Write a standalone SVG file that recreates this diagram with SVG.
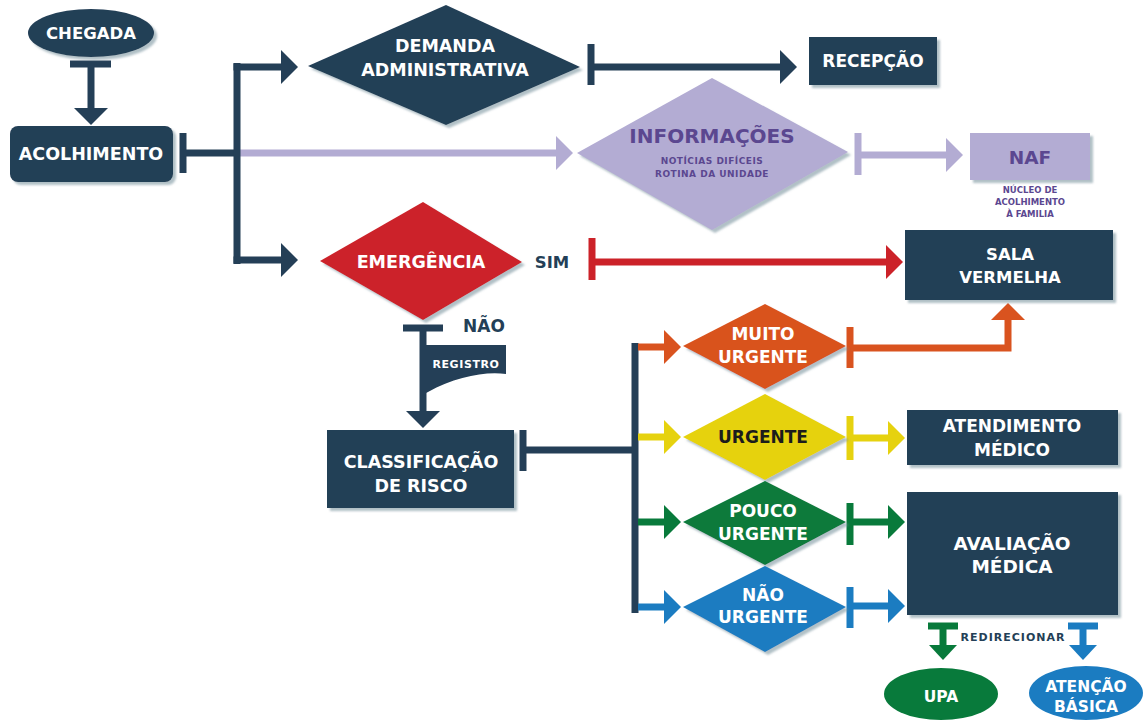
<svg xmlns="http://www.w3.org/2000/svg" width="1143" height="720" viewBox="0 0 1143 720">
<defs>
<style>
text{font-family:"DejaVu Sans","Liberation Sans",sans-serif;font-weight:bold;text-anchor:middle;dominant-baseline:central}
.w{fill:#ffffff}
.nv{fill:#243f57}
.ln{fill:none;stroke-width:7}
.sh{filter:url(#sh)}
</style>
<filter id="sh" x="-10%" y="-10%" width="125%" height="130%">
<feDropShadow dx="3" dy="3" stdDeviation="1.2" flood-color="#6f8d98" flood-opacity="0.55"/>
</filter>
<marker id="aN" markerUnits="userSpaceOnUse" viewBox="0 0 17 34" markerWidth="17" markerHeight="34" refX="0" refY="17" orient="auto"><path d="M0,0L17,17L0,34Z" fill="#243f57"/></marker>
<marker id="aP" markerUnits="userSpaceOnUse" viewBox="0 0 17 34" markerWidth="17" markerHeight="34" refX="0" refY="17" orient="auto"><path d="M0,0L17,17L0,34Z" fill="#b3acd3"/></marker>
<marker id="aR" markerUnits="userSpaceOnUse" viewBox="0 0 17 34" markerWidth="17" markerHeight="34" refX="0" refY="17" orient="auto"><path d="M0,0L17,17L0,34Z" fill="#cc2229"/></marker>
<marker id="aO" markerUnits="userSpaceOnUse" viewBox="0 0 17 34" markerWidth="17" markerHeight="34" refX="0" refY="17" orient="auto"><path d="M0,0L17,17L0,34Z" fill="#d9531f"/></marker>
<marker id="aY" markerUnits="userSpaceOnUse" viewBox="0 0 17 34" markerWidth="17" markerHeight="34" refX="0" refY="17" orient="auto"><path d="M0,0L17,17L0,34Z" fill="#e6d20f"/></marker>
<marker id="aG" markerUnits="userSpaceOnUse" viewBox="0 0 17 34" markerWidth="17" markerHeight="34" refX="0" refY="17" orient="auto"><path d="M0,0L17,17L0,34Z" fill="#087a3b"/></marker>
<marker id="aB" markerUnits="userSpaceOnUse" viewBox="0 0 17 34" markerWidth="17" markerHeight="34" refX="0" refY="17" orient="auto"><path d="M0,0L17,17L0,34Z" fill="#1b7cc1"/></marker>
<marker id="sG" markerUnits="userSpaceOnUse" viewBox="0 0 15 28" markerWidth="15" markerHeight="28" refX="0" refY="14" orient="auto"><path d="M0,0L15,14L0,28Z" fill="#087a3b"/></marker>
<marker id="sB" markerUnits="userSpaceOnUse" viewBox="0 0 15 28" markerWidth="15" markerHeight="28" refX="0" refY="14" orient="auto"><path d="M0,0L15,14L0,28Z" fill="#1b7cc1"/></marker>
</defs>
<rect width="1143" height="720" fill="#ffffff"/>

<g id="connectors">
  <path class="ln" stroke="#243f57" d="M70,64H111"/>
  <path class="ln" stroke="#243f57" d="M91,64V108" marker-end="url(#aN)"/>
  <path class="ln" stroke="#243f57" d="M183,133V173"/>
  <path class="ln" stroke="#b3acd3" d="M237,153H556" marker-end="url(#aP)"/>
  <path class="ln" stroke="#243f57" d="M183,153H237"/>
  <path class="ln" stroke="#243f57" d="M237,63V264"/>
  <path class="ln" stroke="#243f57" d="M233.5,67H281" marker-end="url(#aN)"/>
  <path class="ln" stroke="#243f57" d="M233.5,260H281" marker-end="url(#aN)"/>
  <path class="ln" stroke="#243f57" d="M591,44V85"/>
  <path class="ln" stroke="#243f57" d="M591,67H780" marker-end="url(#aN)"/>
  <path class="ln" stroke="#b3acd3" d="M858,133V175"/>
  <path class="ln" stroke="#b3acd3" d="M858,155H946" marker-end="url(#aP)"/>
  <path class="ln" stroke="#cc2229" d="M592,238V280"/>
  <path class="ln" stroke="#cc2229" d="M592,262H886" marker-end="url(#aR)"/>
  <path class="ln" stroke="#243f57" d="M403,328H443"/>
  <path class="ln" stroke="#243f57" d="M423,328V411" marker-end="url(#aN)"/>
  <path fill="#243f57" d="M420,345H506V374C485,371 455,377 428,392L420,396Z"/>
  <text class="w" x="466" y="364" font-size="11" letter-spacing="0.6">REGISTRO</text>
  <path class="ln" stroke="#243f57" d="M523,430V471"/>
  <path class="ln" stroke="#243f57" d="M523,450H635"/>
  <path class="ln" stroke="#243f57" d="M635,343V613"/>
  <path class="ln" stroke="#d9531f" d="M638,347H664" marker-end="url(#aO)"/>
  <path class="ln" stroke="#e6d20f" d="M638,437H664" marker-end="url(#aY)"/>
  <path class="ln" stroke="#087a3b" d="M638,522H664" marker-end="url(#aG)"/>
  <path class="ln" stroke="#1b7cc1" d="M638,607H664" marker-end="url(#aB)"/>
  <path class="ln" stroke="#d9531f" d="M850,327V368"/>
  <path class="ln" stroke="#d9531f" d="M850,348H1008V320" marker-end="url(#aO)"/>
  <path class="ln" stroke="#e6d20f" d="M850,416V460"/>
  <path class="ln" stroke="#e6d20f" d="M850,438H888" marker-end="url(#aY)"/>
  <path class="ln" stroke="#087a3b" d="M850,503V545"/>
  <path class="ln" stroke="#087a3b" d="M850,522H888" marker-end="url(#aG)"/>
  <path class="ln" stroke="#1b7cc1" d="M850,587V628"/>
  <path class="ln" stroke="#1b7cc1" d="M850,606H888" marker-end="url(#aB)"/>
  <path class="ln" stroke="#087a3b" d="M928,626H958"/>
  <path class="ln" stroke="#087a3b" d="M943,626V645" marker-end="url(#sG)"/>
  <path class="ln" stroke="#1b7cc1" d="M1068,626H1098"/>
  <path class="ln" stroke="#1b7cc1" d="M1083,626V645" marker-end="url(#sB)"/>
  <text class="nv" x="1013" y="637" font-size="11" letter-spacing="1">REDIRECIONAR</text>
  <text class="nv" x="552" y="262" font-size="16.5">SIM</text>
  <text class="nv" x="484" y="326" font-size="17">NÃO</text>
</g>

<g id="chegada">
  <ellipse class="sh" cx="91" cy="33" rx="63" ry="24" fill="#243f57"/>
  <text class="w" x="91" y="33" font-size="16.5">CHEGADA</text>
</g>
<g id="acolhimento">
  <rect class="sh" x="10" y="126" width="163" height="56" rx="8" fill="#243f57"/>
  <text class="w" x="91" y="154" font-size="17.5">ACOLHIMENTO</text>
</g>
<g id="demanda">
  <polygon class="sh" points="308,66 446,5 580,67 446,125" fill="#243f57"/>
  <text class="w" x="445" y="46" font-size="17.5">DEMANDA</text>
  <text class="w" x="445" y="70" font-size="17.5">ADMINISTRATIVA</text>
</g>
<g id="recepcao">
  <rect class="sh" x="809" y="37" width="128" height="48" fill="#243f57"/>
  <text class="w" x="873" y="61" font-size="17">RECEPÇÃO</text>
</g>
<g id="informacoes">
  <polygon class="sh" points="577,153 712,78 848,152 712,230" fill="#b3acd3"/>
  <text x="712" y="136" font-size="20" fill="#5b4790">INFORMAÇÕES</text>
  <text x="712" y="161" font-size="9" letter-spacing="0.5" fill="#5b4790">NOTÍCIAS DIFÍCEIS</text>
  <text x="712" y="174" font-size="9" letter-spacing="0.5" fill="#5b4790">ROTINA DA UNIDADE</text>
</g>
<g id="naf">
  <rect class="sh" x="970" y="133" width="120" height="47" fill="#b3acd3"/>
  <text x="1030" y="157" font-size="18.5" fill="#5b4790">NAF</text>
  <text x="1030" y="190" font-size="8.5" fill="#5b4790">NÚCLEO DE</text>
  <text x="1030" y="202" font-size="8.5" fill="#5b4790">ACOLHIMENTO</text>
  <text x="1030" y="214" font-size="8.5" fill="#5b4790">À FAMILIA</text>
</g>
<g id="emergencia">
  <polygon class="sh" points="320,261 423,202 522,262 423,320" fill="#cc2229"/>
  <text class="w" x="421" y="262" font-size="17.5">EMERGÊNCIA</text>
</g>
<g id="sala-vermelha">
  <rect class="sh" x="905" y="230" width="208" height="70" fill="#243f57"/>
  <text class="w" x="1010" y="254" font-size="16.5">SALA</text>
  <text class="w" x="1010" y="277" font-size="16.5">VERMELHA</text>
</g>
<g id="classificacao">
  <rect class="sh" x="327" y="430" width="187" height="78" fill="#243f57"/>
  <text class="w" x="421" y="462" font-size="17.5">CLASSIFICAÇÃO</text>
  <text class="w" x="421" y="486" font-size="17.5">DE RISCO</text>
</g>
<g id="muito-urgente">
  <polygon class="sh" points="683,346 765,304 846,346 765,389" fill="#d9531f"/>
  <text class="w" x="763" y="334" font-size="17">MUITO</text>
  <text class="w" x="763" y="357" font-size="17">URGENTE</text>
</g>
<g id="urgente">
  <polygon class="sh" points="683,437 765,394 846,437 765,480" fill="#e6d20f"/>
  <text x="763" y="437" font-size="17" fill="#1c1c1c">URGENTE</text>
</g>
<g id="pouco-urgente">
  <polygon class="sh" points="683,522 765,481 846,522 765,565" fill="#087a3b"/>
  <text class="w" x="763" y="511" font-size="17">POUCO</text>
  <text class="w" x="763" y="534" font-size="17">URGENTE</text>
</g>
<g id="nao-urgente">
  <polygon class="sh" points="683,607 765,566 846,607 765,652" fill="#1b7cc1"/>
  <text class="w" x="763" y="595" font-size="17">NÃO</text>
  <text class="w" x="763" y="617" font-size="17">URGENTE</text>
</g>
<g id="atendimento">
  <rect class="sh" x="907" y="410" width="211" height="55" fill="#243f57"/>
  <text class="w" x="1012" y="426" font-size="17">ATENDIMENTO</text>
  <text class="w" x="1012" y="450" font-size="17">MÉDICO</text>
</g>
<g id="avaliacao">
  <rect class="sh" x="907" y="492" width="211" height="123" fill="#243f57"/>
  <text class="w" x="1012" y="543" font-size="18.5">AVALIAÇÃO</text>
  <text class="w" x="1012" y="566" font-size="18.5">MÉDICA</text>
</g>
<g id="upa">
  <ellipse cx="941" cy="694" rx="57" ry="26" fill="#087a3b"/>
  <text class="w" x="941" y="697" font-size="15.5">UPA</text>
</g>
<g id="atencao-basica">
  <ellipse cx="1086" cy="693" rx="57" ry="27" fill="#1b7cc1"/>
  <text class="w" x="1086" y="687" font-size="15.5">ATENÇÃO</text>
  <text class="w" x="1086" y="707" font-size="15.5">BÁSICA</text>
</g>
</svg>
